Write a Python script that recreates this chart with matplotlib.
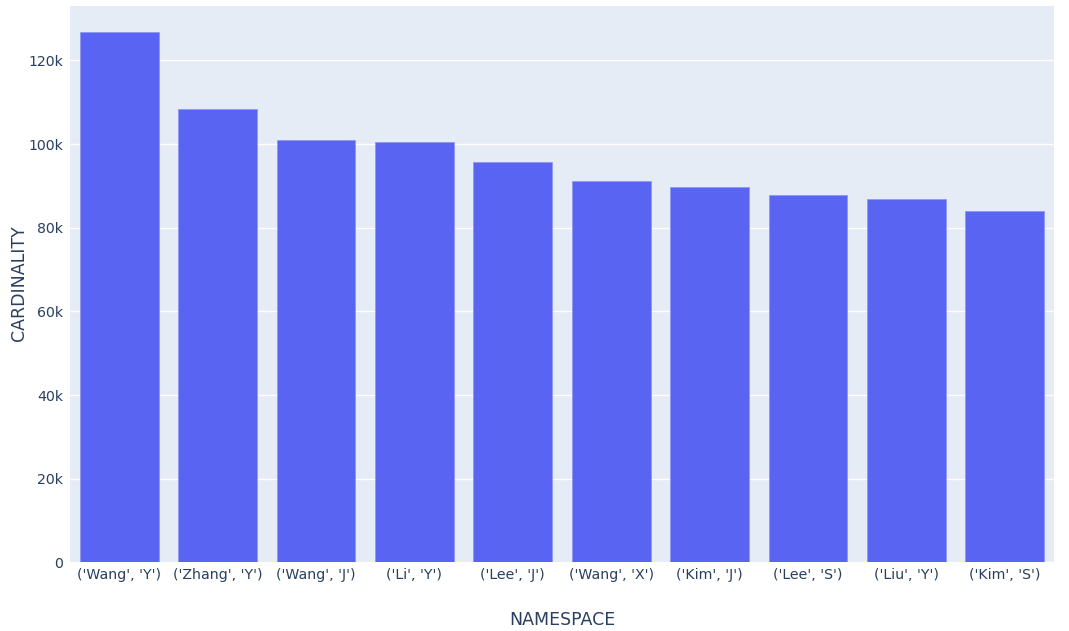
import matplotlib
matplotlib.use("Agg")
import matplotlib.pyplot as plt
from matplotlib.ticker import FuncFormatter

categories = ["('Wang', 'Y')", "('Zhang', 'Y')", "('Wang', 'J')", "('Li', 'Y')", "('Lee', 'J')",
              "('Wang', 'X')", "('Kim', 'J')", "('Lee', 'S')", "('Liu', 'Y')", "('Kim', 'S')"]
cardinality = [126800, 108400, 101000, 100500, 95800, 91200, 89800, 87900, 86900, 84100]
y_ticks = [0, 20000, 40000, 60000, 80000, 100000, 120000]

plt.rcParams['font.family'] = ['DejaVu Sans']
fig = plt.figure(figsize=(10.69, 6.31), dpi=100)
ax = fig.add_axes([70/1069, 1-562.3/631, (1054-70)/1069, (562.3-5.5)/631])
ax.set_facecolor('#E5ECF6')
x = list(range(len(categories)))
ax.bar(x, cardinality, width=0.8, color='#5965f2', edgecolor='#8e97f5', linewidth=0.6, zorder=3)
ax.set_xlim(-0.5, len(categories) - 0.5)
ax.set_ylim(0, max(cardinality) * 1.05)
ax.set_yticks(y_ticks)
ax.yaxis.set_major_formatter(FuncFormatter(lambda v, p: '0' if v == 0 else f'{int(v/1000)}k'))
ax.set_xticks(x)
ax.set_xticklabels(categories)
ax.grid(axis='y', color='white', linewidth=1, zorder=0)
ax.set_axisbelow(True)
for s in ax.spines.values():
    s.set_visible(False)
ax.tick_params(axis='both', length=0, labelsize=10.2, colors='#2a3f5f', pad=4)
ax.tick_params(axis='y', pad=5)
fig.text(562/1069, 1-620/631, 'NAMESPACE', fontsize=12.5, color='#2a3f5f', ha='center', va='center')
fig.text(19/1069, 1-283/631, 'CARDINALITY', fontsize=12.5, color='#2a3f5f', ha='center', va='center', rotation=90)
fig.savefig('out.png', dpi=100, facecolor='white')
